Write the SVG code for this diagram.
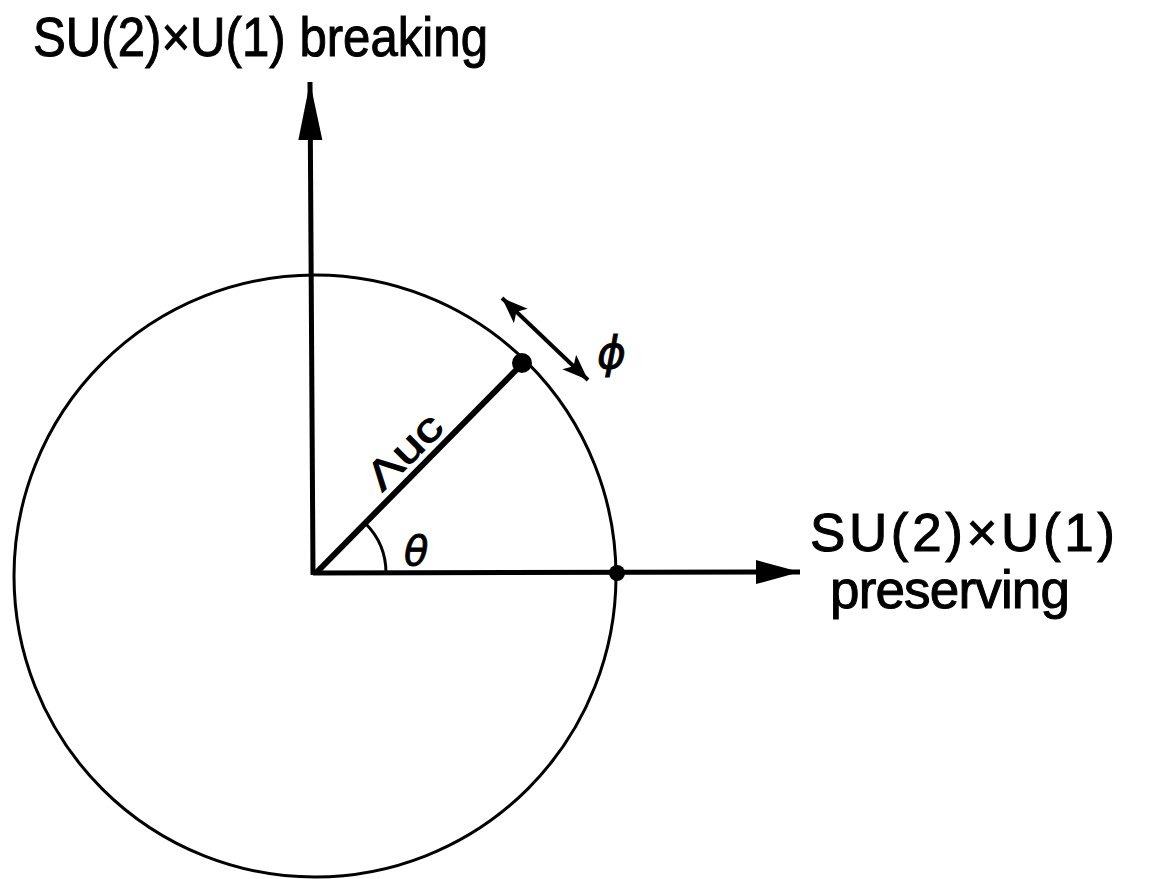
<svg xmlns="http://www.w3.org/2000/svg" width="1172" height="879" viewBox="0 0 1172 879">
<style>
.lbl{font-family:"Liberation Sans","DejaVu Sans",Arial,sans-serif;fill:#000;stroke:#000;stroke-width:1}
.sym{font-family:"DejaVu Sans","Liberation Sans",sans-serif;font-style:italic;fill:#000;stroke:#000;stroke-width:0.8}
.ax{stroke:#000;stroke-width:5;fill:none}
</style>
<defs>
<marker id="headV" markerUnits="userSpaceOnUse" markerWidth="60" markerHeight="26" refX="58" refY="12" orient="auto" viewBox="0 0 60 26"><path d="M0,0 L58,12 L0,24 Z" fill="#000"/></marker>
<marker id="headH" markerUnits="userSpaceOnUse" markerWidth="46" markerHeight="26" refX="44" refY="12" orient="auto" viewBox="0 0 46 26"><path d="M0,0 L44,12 L0,24 Z" fill="#000"/></marker>
<marker id="headS" markerUnits="userSpaceOnUse" markerWidth="30" markerHeight="22" refX="26" refY="10" orient="auto-start-reverse" viewBox="0 0 30 22"><path d="M0,0 L26,10 L0,20 L6,10 Z" fill="#000"/></marker>
</defs>
<rect width="1172" height="879" fill="#fff"/>
<g id="circle"><circle cx="315" cy="576" r="301" fill="none" stroke="#000" stroke-width="3"/></g>
<g id="connectors">
<line class="ax" x1="313" y1="575" x2="310" y2="82" marker-end="url(#headV)"/>
<line class="ax" x1="313" y1="573" x2="800" y2="572" marker-end="url(#headH)"/>
<line x1="316" y1="573" x2="522" y2="364" stroke="#000" stroke-width="6"/>
<path d="M386 573 A70 70 0 0 0 366 524" fill="none" stroke="#000" stroke-width="3"/>
<line x1="502" y1="298" x2="588" y2="380" stroke="#000" stroke-width="4" marker-start="url(#headS)" marker-end="url(#headS)"/>
</g>
<g id="dots">
<circle cx="522" cy="363" r="10" fill="#000"/>
<circle cx="617" cy="573" r="8" fill="#000"/>
</g>
<g id="label-breaking"><text class="lbl" x="33" y="56" font-size="56" textLength="455" lengthAdjust="spacingAndGlyphs">SU(2)×U(1) breaking</text></g>
<g id="label-preserving">
<text class="lbl" x="810" y="551" font-size="53" textLength="305" lengthAdjust="spacing">SU(2)×U(1)</text>
<text class="lbl" x="830" y="608" font-size="53" textLength="240" lengthAdjust="spacing">preserving</text>
</g>
<g id="label-lambda"><text class="lbl" x="0" y="0" font-size="40" text-anchor="middle" textLength="90" lengthAdjust="spacingAndGlyphs" transform="translate(414,461) rotate(-45)">Λuc</text></g>
<g id="label-theta"><text class="sym" x="404" y="565" font-size="40">θ</text></g>
<g id="label-phi"><text class="sym" x="597" y="368" font-size="44">ϕ</text></g>
</svg>
